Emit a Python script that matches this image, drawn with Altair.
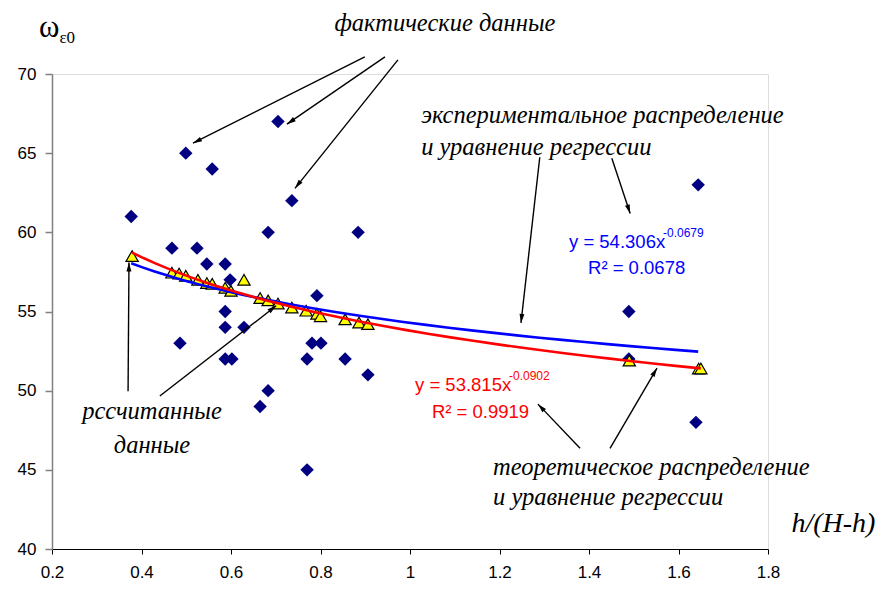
import math
import altair as alt
import pandas as pd

# ---------------- data ----------------
# actual data (navy diamonds)
fact_x = [0.377, 0.468, 0.486, 0.499, 0.524, 0.546, 0.558, 0.587, 0.587, 0.587,
          0.587, 0.598, 0.602, 0.629, 0.665, 0.683, 0.683, 0.705, 0.736, 0.770,
          0.770, 0.781, 0.792, 0.801, 0.855, 0.884, 0.906, 1.489, 1.489, 1.639, 1.644]
fact_y = [61, 59, 53, 65, 59, 58, 64, 58, 55, 54,
          52, 57, 52, 54, 49, 60, 50, 67, 62, 52,
          45, 53, 56, 53, 52, 60, 51, 55, 52, 48, 63]

# calculated data (yellow triangles)
calc_x = [0.379, 0.468, 0.484, 0.499, 0.526, 0.546, 0.558, 0.587, 0.600, 0.629,
          0.665, 0.683, 0.705, 0.736, 0.768, 0.792, 0.800, 0.855, 0.886, 0.906,
          1.490, 1.645, 1.650]
calc_y = [58.5, 57.45, 57.4, 57.25, 57.0, 56.8, 56.75, 56.5, 56.3, 57.0,
          55.85, 55.7, 55.5, 55.25, 55.05, 54.85, 54.7, 54.5, 54.3, 54.2,
          51.9, 51.4, 51.4]

x_ticks = [0.2, 0.4, 0.6, 0.8, 1.0, 1.2, 1.4, 1.6, 1.8]
y_ticks = [40, 45, 50, 55, 60, 65, 70]

# annotation arrows (data units): start x, start y, tip x, tip y
arrow_x1 = [0.899, 0.944, 0.973, 1.290, 1.451, 0.370, 0.441, 1.380, 1.447]
arrow_y1 = [71.08, 71.08, 70.89, 64.74, 64.68, 49.97, 49.66, 46.36, 46.36]
arrow_x2 = [0.515, 0.725, 0.743, 1.248, 1.492, 0.372, 0.701, 1.286, 1.552]
arrow_y2 = [65.63, 66.83, 62.78, 54.28, 61.19, 58.09, 55.36, 49.15, 51.43]

# ---------------- geometry ----------------
X_DOMAIN = [0.2, 1.8]
Y_DOMAIN = [40, 70]
W, H = 716, 475

xs = alt.Scale(domain=X_DOMAIN, nice=False, zero=False)
ys = alt.Scale(domain=Y_DOMAIN, nice=False, zero=False)

x_axis = alt.Axis(values=x_ticks, format="~g", title=None, grid=False,
                  labelFont="Liberation Sans", labelFontSize=17, labelColor="black",
                  domainColor="black", tickColor="black", tickSize=5, labelPadding=10,
                  domainWidth=1, labelFlush=False)
y_axis = alt.Axis(values=y_ticks, title=None, grid=False,
                  labelFont="Liberation Sans", labelFontSize=17, labelColor="black",
                  domainColor="#808080", tickColor="#808080", tickSize=7, labelPadding=9,
                  domainWidth=1.5, tickWidth=1.5)

X = alt.X("x:Q", scale=xs, axis=x_axis)
Y = alt.Y("y:Q", scale=ys, axis=y_axis)

fact = pd.DataFrame({"x": fact_x, "y": fact_y})
calc = pd.DataFrame({"x": calc_x, "y": calc_y})

diamonds = alt.Chart(fact).mark_point(shape="diamond", filled=True, color="#000080",
                                      size=180, opacity=1).encode(x=X, y=Y)
triangles = alt.Chart(calc).mark_point(shape="triangle-up", filled=True, fill="#FFFF00",
                                       stroke="black", strokeWidth=1.2, size=150,
                                       opacity=1).encode(x=X, y=Y)
blue_fit = alt.Chart(fact).transform_regression("x", "y", method="pow").mark_line(
    color="#0000FF", strokeWidth=2.6).encode(x=X, y=Y)
red_fit = alt.Chart(calc).transform_regression("x", "y", method="pow").mark_line(
    color="#FF0000", strokeWidth=2.6).encode(x=X, y=Y)

# arrows
sx = W / (X_DOMAIN[1] - X_DOMAIN[0])
sy = H / (Y_DOMAIN[1] - Y_DOMAIN[0])
R_HEAD = 4.5
rows = []
for a, b, c, d in zip(arrow_x1, arrow_y1, arrow_x2, arrow_y2):
    dxp = (c - a) * sx
    dyp = -(d - b) * sy
    L = math.hypot(dxp, dyp)
    ux, uy = dxp / L, dyp / L
    ang = math.degrees(math.atan2(dxp, -dyp)) % 360
    hx = c - ux * R_HEAD / sx
    hy = d + uy * R_HEAD / sy
    rows.append({"x": a, "y": b, "x2": c, "y2": d, "hx": hx, "hy": hy, "ang": ang})
arrows = pd.DataFrame(rows)

arrow_lines = alt.Chart(arrows).mark_rule(color="black", strokeWidth=1.4).encode(
    x=X, y=Y, x2="x2:Q", y2="y2:Q")
arrow_heads = alt.Chart(arrows).mark_point(
    shape="M0,-1L0.55,1L-0.55,1Z", filled=True, color="black", opacity=1, size=81
).encode(x=alt.X("hx:Q", scale=xs, axis=x_axis), y=alt.Y("hy:Q", scale=ys, axis=y_axis),
         angle=alt.Angle("ang:Q", scale=None))

# text annotations
ru_text = pd.DataFrame({
    "x": [1.078, 1.025, 1.025, 0.4235, 0.4235, 1.1855, 1.1855],
    "y": [72.72, 66.9, 64.87, 48.2, 46.05, 44.65, 42.75],
    "t": ["фактические данные", "экспериментальное распределение", "и уравнение регрессии",
          "рссчитанные", "данные", "теоретическое распределение", "и уравнение регрессии"],
    "a": ["center", "left", "left", "center", "center", "left", "left"],
})
ru_layers = []
for al in ["center", "left"]:
    sub = ru_text[ru_text["a"] == al]
    ru_layers.append(alt.Chart(sub).mark_text(
        font="Liberation Serif", fontStyle="italic", fontSize=24.5, align=al,
        baseline="alphabetic", color="black").encode(x=X, y=Y, text="t:N"))

eq_main = pd.DataFrame({
    "x": [1.3553, 1.3978, 1.0112, 1.049],
    "y": [59.02, 57.39, 49.97, 48.3],
    "t": ["y = 54.306x", "R² = 0.0678", "y = 53.815x", "R² = 0.9919"],
    "c": ["blue", "blue", "red", "red"],
})
eq_sup = pd.DataFrame({
    "x": [1.5654, 1.2212],
    "y": [59.73, 50.67],
    "t": ["-0.0679", "-0.0902"],
    "c": ["blue", "red"],
})
col = alt.Color("c:N", scale=alt.Scale(domain=["blue", "red"], range=["#0000FF", "#FF0000"]),
                legend=None)
eq_main_l = alt.Chart(eq_main).mark_text(font="Liberation Sans", fontSize=18.5, align="left",
                                         baseline="alphabetic").encode(x=X, y=Y, text="t:N", color=col)
eq_sup_l = alt.Chart(eq_sup).mark_text(font="Liberation Sans", fontSize=12, align="left",
                                       baseline="alphabetic").encode(x=X, y=Y, text="t:N", color=col)

# axis titles drawn as text
xt = pd.DataFrame({"x": [2.04], "y": [41.1], "t": ["h/(H-h)"]})
x_title = alt.Chart(xt).mark_text(font="Liberation Serif", fontStyle="italic", fontSize=28,
                                  align="right", baseline="alphabetic", color="black").encode(
    x=X, y=Y, text="t:N")
yt = pd.DataFrame({"x": [0.171], "y": [72.34], "t": ["ω"]})
y_title = alt.Chart(yt).mark_text(font="Liberation Serif", fontSize=31, align="left",
                                  baseline="alphabetic", color="black").encode(x=X, y=Y, text="t:N")
yts = pd.DataFrame({"x": [0.2165], "y": [71.96], "t": ["ε0"]})
y_title_sub = alt.Chart(yts).mark_text(font="Liberation Serif", fontSize=17, align="left",
                                       baseline="alphabetic", color="black").encode(x=X, y=Y, text="t:N")

chart = alt.layer(
    diamonds, triangles, blue_fit, red_fit, arrow_lines, arrow_heads,
    *ru_layers, eq_main_l, eq_sup_l, x_title, y_title, y_title_sub
).properties(
    width=W, height=H,
    autosize=alt.AutoSizeParams(type="none"),
    padding={"left": 44, "top": 66, "right": 110, "bottom": 33},
).configure_view(stroke=None).configure(background="white")

chart.save("out.html", embed_options={"renderer": "svg", "actions": False})
